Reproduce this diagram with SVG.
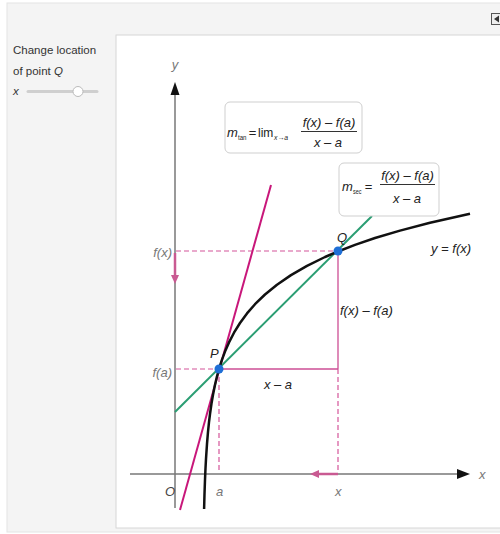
<svg xmlns="http://www.w3.org/2000/svg" width="500" height="534" viewBox="0 0 500 534">
<style>
text{font-family:"Liberation Sans","DejaVu Sans",sans-serif;}
.it{font-style:italic;}
.lab{font-size:13px;font-style:italic;fill:#777;}
.blk{font-size:13px;font-style:italic;fill:#222;}
.fm{font-size:13px;fill:#222;}
.sub{font-size:8px;fill:#222;}
.dash{stroke:#d4559a;stroke-width:1.2;stroke-dasharray:5 3;fill:none;}
.solid{stroke:#cc4e94;stroke-width:1.3;fill:none;}
.box{fill:#fff;stroke:#cfcfcf;stroke-width:1;}
.axis{stroke:#777;stroke-width:1.5;fill:none;}
</style>
<rect x="0" y="0" width="500" height="534" fill="#fff"/>
<g id="panel">
<rect x="7" y="3" width="500" height="529" fill="#f4f4f4" stroke="#e4e4e4"/>
<rect x="116" y="35" width="400" height="493" fill="#fff" stroke="#d6d6d6"/>
<rect x="491.5" y="13.5" width="10" height="11" fill="#eee" stroke="#555"/>
<polygon points="499,15.5 494,19 499,22.5" fill="#333"/>
</g>
<g id="controls">
<text x="13" y="54" font-size="11.5" fill="#333">Change location</text>
<text x="13" y="75" font-size="11.5" fill="#333">of point <tspan class="it">Q</tspan></text>
<text x="13" y="95" font-size="11.5" fill="#333" class="it">x</text>
<line x1="28" y1="91.5" x2="97" y2="91.5" stroke="#cfcfcf" stroke-width="3" stroke-linecap="round"/>
<circle cx="78" cy="91.5" r="5" fill="#fff" stroke="#bbb"/>
</g>
<g id="axes">
<line class="axis" x1="130" y1="474" x2="458" y2="474"/>
<polygon points="457,469 470,474 457,479" fill="#111"/>
<line class="axis" x1="175" y1="508" x2="175" y2="95"/>
<polygon points="170.5,95 175,82 179.5,95" fill="#111"/>
<text class="lab" x="175" y="69" text-anchor="middle">y</text>
<text class="lab" x="479" y="479">x</text>
<text class="lab" x="165" y="496" style="fill:#444">O</text>
<text class="lab" x="216" y="496">a</text>
<text class="lab" x="335" y="496">x</text>
<text class="lab" x="172" y="257" text-anchor="end">f(x)</text>
<text class="lab" x="172" y="377" text-anchor="end">f(a)</text>
</g>
<g id="connectors">
<line class="dash" x1="176" y1="251" x2="338" y2="251"/>
<line class="dash" x1="176" y1="369" x2="219" y2="369"/>
<line class="dash" x1="219" y1="369" x2="219" y2="473"/>
<line class="dash" x1="338" y1="369" x2="338" y2="473"/>
<line class="solid" x1="338" y1="251" x2="338" y2="369"/>
<line class="solid" x1="219" y1="369" x2="338" y2="369"/>
<line x1="175" y1="253" x2="175" y2="276" stroke="#c95a92" stroke-width="2.5"/>
<polygon points="171,275 175,284 179,275" fill="#c95a92"/>
<line x1="338" y1="474" x2="318" y2="474" stroke="#c95a92" stroke-width="2.5"/>
<polygon points="319,470 310,474 319,478" fill="#c95a92"/>
</g>
<g id="tangent">
<line x1="180" y1="510" x2="271" y2="185" stroke="#c8177a" stroke-width="2"/>
</g>
<g id="secant">
<line x1="175" y1="412" x2="372" y2="216" stroke="#2b9e73" stroke-width="2"/>
</g>
<g id="curve">
<path d="M204.1,509 L204.5,493.9 L205,479.6 L205.5,468.3 L206,458.9 L207,443.8 L208,431.9 L209,422.2 L210,414 L211.5,403.5 L213,394.7 L215,384.7 L217,376.3 L219,369 L222,359.6 L225,351.6 L229,342.4 L234,332.7 L240,323 L247,313.4 L255,304.2 L265,294.5 L277,284.7 L291,275.1 L307,265.9 L325,257 L338,251.5 L355,244.9 L375,238 L400,230.6 L430,222.7 L470,213.7" fill="none" stroke="#111" stroke-width="2.5" stroke-linejoin="round"/>
<text class="blk" x="431" y="253">y = f(x)</text>
</g>
<g id="pointP">
<circle cx="219" cy="369" r="4.5" fill="#1f6fd6"/>
<text class="blk" x="210" y="358">P</text>
</g>
<g id="pointQ">
<circle cx="338" cy="251" r="4.5" fill="#1f6fd6"/>
<text class="blk" x="337" y="242">Q</text>
</g>
<g id="labels">
<text class="blk" x="340" y="315">f(x) – f(a)</text>
<text class="blk" x="278" y="389" text-anchor="middle">x – a</text>
</g>
<g id="mtan">
<rect class="box" x="225" y="102" width="137" height="51" rx="5"/>
<text class="fm it" x="227" y="137">m</text>
<text class="sub" x="238" y="139.5" textLength="8.5" lengthAdjust="spacingAndGlyphs">tan</text>
<text class="fm" x="252.5" y="137" text-anchor="middle">=</text>
<text font-size="12" fill="#222" x="258" y="137">lim</text>
<text class="sub" x="274" y="139.5" textLength="14" lengthAdjust="spacingAndGlyphs"><tspan class="it">x</tspan>→<tspan class="it">a</tspan></text>
<text class="fm it" x="329" y="127" text-anchor="middle">f(x) – f(a)</text>
<line x1="301" y1="131.5" x2="357" y2="131.5" stroke="#333" stroke-width="1"/>
<text class="fm it" x="328" y="147" text-anchor="middle">x – a</text>
</g>
<g id="msec">
<rect class="box" x="339" y="163" width="100" height="53" rx="5"/>
<text class="fm it" x="342" y="191">m</text>
<text class="sub" x="353" y="193.5" textLength="8.5" lengthAdjust="spacingAndGlyphs">sec</text>
<text class="fm" x="368.5" y="191" text-anchor="middle">=</text>
<text class="fm it" x="407.5" y="180" text-anchor="middle">f(x) – f(a)</text>
<line x1="380" y1="184.5" x2="435" y2="184.5" stroke="#333" stroke-width="1"/>
<text class="fm it" x="407" y="203" text-anchor="middle">x – a</text>
</g>
</svg>
